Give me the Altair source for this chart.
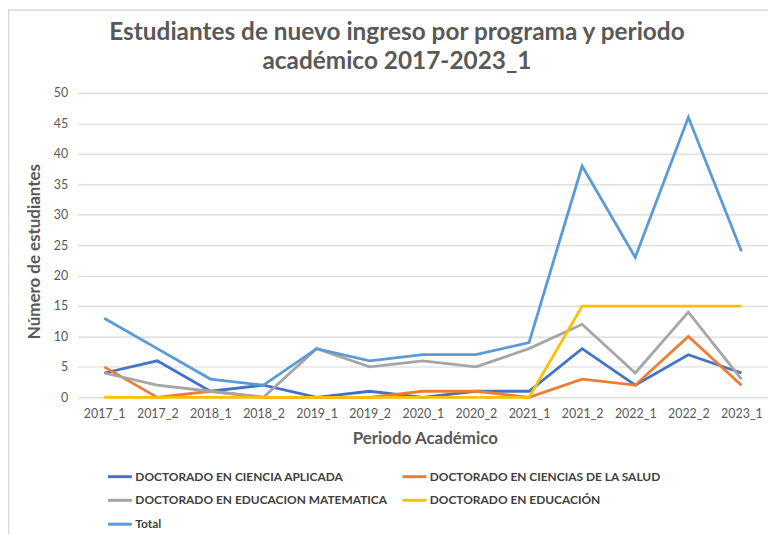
import altair as alt
import pandas as pd

periodos = ["2017_1", "2017_2", "2018_1", "2018_2", "2019_1", "2019_2", "2020_1",
            "2020_2", "2021_1", "2021_2", "2022_1", "2022_2", "2023_1"]
series = ["DOCTORADO EN CIENCIA APLICADA", "DOCTORADO EN CIENCIAS DE LA SALUD",
          "DOCTORADO EN EDUCACION MATEMATICA", "DOCTORADO EN EDUCACIÓN", "Total"]
ciencia_aplicada = [4, 6, 1, 2, 0, 1, 0, 1, 1, 8, 2, 7, 4]
ciencias_salud = [5, 0, 1, 0, 0, 0, 1, 1, 0, 3, 2, 10, 2]
educacion_matematica = [4, 2, 1, 0, 8, 5, 6, 5, 8, 12, 4, 14, 3]
educacion = [0, 0, 0, 0, 0, 0, 0, 0, 0, 15, 15, 15, 15]
total = [13, 8, 3, 2, 8, 6, 7, 7, 9, 38, 23, 46, 24]
colores = ["#4472C4", "#ED7D31", "#A5A5A5", "#FFC000", "#5B9BD5"]

valores = [ciencia_aplicada, ciencias_salud, educacion_matematica, educacion, total]
rows = []
for i, (s, vals) in enumerate(zip(series, valores)):
    for p, v in zip(periodos, vals):
        rows.append({"serie": s, "periodo": p, "valor": v, "orden": i})
df = pd.DataFrame(rows)

# Legend fills column-major: reorder so it reads row by row like the original
leg_idx = [0, 2, 4, 1, 3]
leg_domain = [series[i] for i in leg_idx]
leg_range = [colores[i] for i in leg_idx]

FONT = "Lato"
TXT = "#595959"
FRAME = "#D9D9D9"

lines = alt.Chart(df).mark_line(strokeWidth=2.8).encode(
    x=alt.X("periodo:N", sort=periodos, scale=alt.Scale(padding=0.5),
            axis=alt.Axis(title="Periodo Académico", labelAngle=0, grid=False,
                          domain=False, ticks=False, labelPadding=10,
                          titleX=349, titleY=33, titleFontSize=17)),
    y=alt.Y("valor:Q", scale=alt.Scale(domain=[0, 50], nice=False),
            axis=alt.Axis(title="Número de estudiantes", values=list(range(0, 51, 5)),
                          domain=False, ticks=False, labelPadding=10,
                          titleX=-34, titleY=159, titleFontSize=17)),
    color=alt.Color("serie:N", scale=alt.Scale(domain=leg_domain, range=leg_range),
                    legend=alt.Legend(orient="none", legendX=29, legendY=372, columns=2,
                                      title=None, symbolType="stroke", symbolSize=576,
                                      symbolStrokeWidth=3, labelFont=FONT, labelFontSize=12,
                                      labelFontWeight="bold", labelColor="#404040",
                                      labelOffset=2, rowPadding=4, columnPadding=8,
                                      labelLimit=400)),
    order=alt.Order("orden:Q"),
)

# chart-area frame (top and left edges, as in the original spreadsheet chart)
frame_df = pd.DataFrame({"k": [0]})
frame_top = alt.Chart(frame_df).mark_rule(color=FRAME, strokeWidth=1.5).encode(
    x=alt.value(-70), x2=alt.value(700), y=alt.value(-83.5))
frame_left = alt.Chart(frame_df).mark_rule(color=FRAME, strokeWidth=1.5).encode(
    x=alt.value(-69.5), y=alt.value(-84), y2=alt.value(444))

chart = alt.layer(frame_top, frame_left, lines).properties(
    width=694, height=306,
    autosize=alt.AutoSizeParams(type="none"),
    padding={"left": 70, "top": 84, "right": 0, "bottom": 138},
    title=alt.TitleParams(["Estudiantes de nuevo ingreso por programa y periodo",
                           "académico 2017-2023_1"],
                          font=FONT, fontSize=24.5, fontWeight="bold", color=TXT,
                          anchor="middle", dx=-26, dy=78, offset=12, lineHeight=29),
).configure_axis(
    labelFont=FONT, labelFontSize=12.5, labelColor=TXT,
    titleFont=FONT, titleFontWeight="bold", titleColor=TXT,
    gridColor="#D9D9D9", gridWidth=1.2,
).configure_view(stroke=None)

chart.save("out.html", embed_options={"renderer": "svg", "actions": False})
